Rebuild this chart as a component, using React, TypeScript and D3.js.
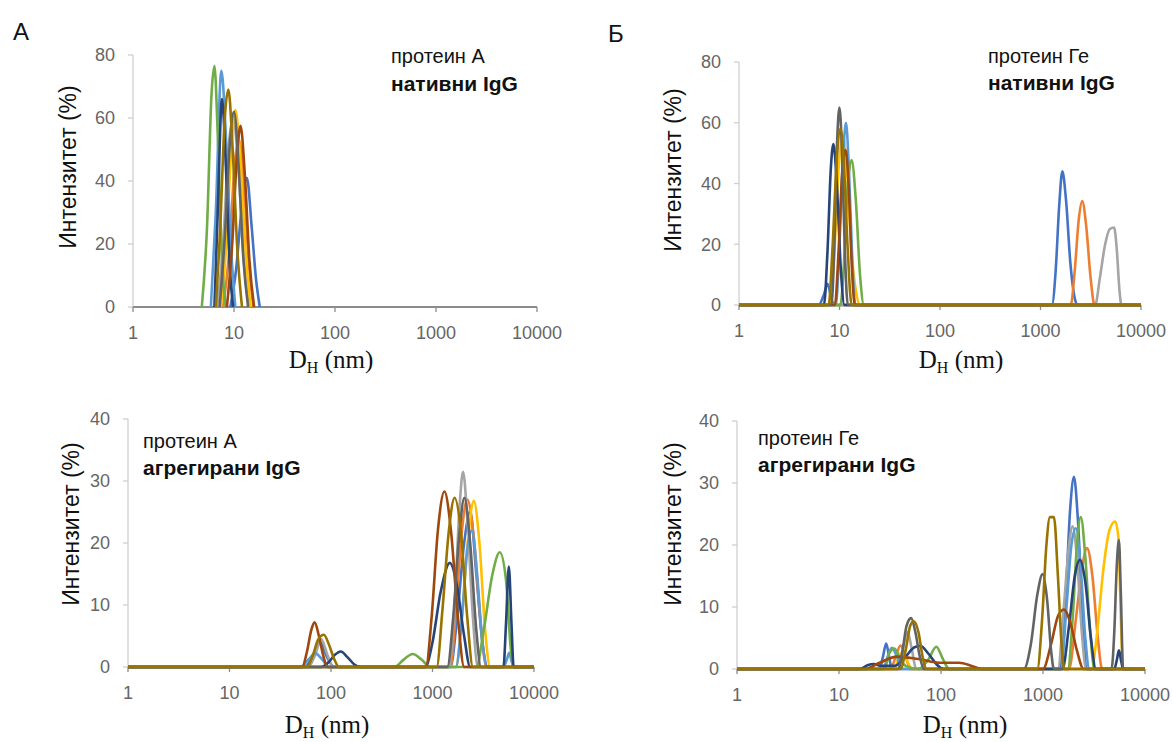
import React from "react";
import * as d3 from "d3";

type Pt = [number, number];

const palette = [
  "#4472C4", "#ED7D31", "#A5A5A5", "#FFC000", "#5B9BD5",
  "#70AD47", "#264478", "#9E480E", "#636363", "#997300",
];

const xTickValues = [1, 10, 100, 1000, 10000];
const yTicksTop = [0, 20, 40, 60, 80];
const yTicksBottom = [0, 10, 20, 30, 40];

// Panel A, top: protein A, native IgG
const seriesATop: Pt[][] = [
  [[9.2, 0], [10.5, 12], [11.8, 30], [13.4, 41], [15, 25], [16.5, 9], [18, 0]],
  [[7.8, 0], [9, 18], [10.2, 46], [11.2, 53], [12.5, 40], [14, 14], [15.6, 0]],
  [[6.8, 0], [7.8, 20], [8.8, 50], [9.8, 60], [11, 45], [12.5, 15], [14, 0]],
  [[7.4, 0], [8.4, 20], [9.4, 50], [10.3, 62.5], [11.5, 48], [13, 18], [14.6, 0]],
  [[5.9, 0], [6.6, 30], [7.5, 75], [8.3, 55], [9.3, 20], [10.3, 0]],
  [[4.8, 0], [5.4, 25], [6.0, 68], [6.4, 76.5], [6.9, 55], [7.6, 15], [8.3, 0]],
  [[6.4, 0], [6.9, 30], [7.6, 66], [8.3, 45], [9.1, 12], [9.8, 0]],
  [[8.5, 0], [9.6, 20], [10.7, 48], [11.6, 57.5], [12.8, 42], [14.2, 15], [15.8, 0]],
  [[7.2, 0], [8.1, 22], [9.1, 52], [10, 62], [11.1, 45], [12.4, 15], [13.8, 0]],
  [[6.6, 0], [7.3, 25], [8.1, 60], [8.8, 69], [9.7, 50], [10.8, 18], [12, 0]],
];

// Panel Б, top: protein G, native IgG
const seriesBTop: Pt[][] = [
  [[1, 0], [6.2, 0], [7, 3.5], [7.6, 7], [8.2, 3], [8.8, 0], [1300, 0], [1420, 12], [1530, 32], [1650, 44], [1800, 34], [1980, 14], [2200, 2], [2350, 0], [10000, 0]],
  [[1, 0], [2000, 0], [2200, 12], [2400, 28], [2600, 34.2], [2850, 26], [3150, 9], [3450, 0], [10000, 0]],
  [[1, 0], [3500, 0], [3900, 9], [4400, 20], [4900, 25], [5400, 25.5], [5750, 18], [6100, 5], [6400, 0], [10000, 0]],
  [[1, 0], [8, 0], [8.8, 15], [9.8, 45], [10.8, 56], [11.8, 45], [13, 20], [14.5, 5], [16, 0], [10000, 0]],
  [[1, 0], [9.2, 0], [10, 20], [10.9, 50], [11.6, 60], [12.4, 45], [13.4, 15], [14.4, 0], [10000, 0]],
  [[1, 0], [10.2, 0], [11, 12], [12, 38], [13.2, 47.7], [14.5, 35], [16, 10], [17.5, 0], [10000, 0]],
  [[1, 0], [7, 0], [7.6, 18], [8.2, 45], [8.7, 53], [9.4, 40], [10.3, 12], [11.2, 0], [10000, 0]],
  [[1, 0], [9, 0], [9.8, 18], [10.7, 45], [11.5, 51], [12.3, 40], [13.3, 12], [14.2, 0], [10000, 0]],
  [[1, 0], [8.3, 0], [8.9, 20], [9.5, 55], [10, 65], [10.6, 50], [11.3, 18], [12.1, 0], [10000, 0]],
  [[1, 0], [7.8, 0], [8.5, 18], [9.4, 48], [10.2, 58], [11, 48], [12, 20], [13.2, 0], [10000, 0]],
];

// Panel A, bottom: protein A, aggregated IgG
const seriesABottom: Pt[][] = [
  [[1, 0], [55, 0], [65, 1.5], [78, 4], [92, 1.5], [108, 0], [1500, 0], [1750, 8], [2050, 20], [2350, 25], [2700, 15], [3100, 4], [3500, 0], [10000, 0]],
  [[1, 0], [1500, 0], [1700, 9], [1950, 22], [2200, 27], [2550, 21], [2950, 8], [3400, 0], [10000, 0]],
  [[1, 0], [60, 0], [70, 2], [80, 4.5], [92, 2], [105, 0], [1450, 0], [1650, 10], [1850, 26], [2000, 31.5], [2200, 24], [2500, 8], [2800, 0], [10000, 0]],
  [[1, 0], [1700, 0], [1950, 8], [2250, 21], [2550, 26.8], [2900, 20], [3300, 6], [3700, 0], [10000, 0]],
  [[1, 0], [50, 0], [60, 1.2], [70, 2.2], [82, 1.2], [95, 0], [1700, 0], [1950, 8], [2200, 19], [2450, 22], [2750, 15], [3100, 4], [3450, 0], [5000, 0], [5400, 1.2], [5700, 2.3], [6000, 1], [6300, 0], [10000, 0]],
  [[1, 0], [420, 0], [520, 1.2], [640, 2.1], [780, 1.2], [950, 0], [2700, 0], [3200, 6], [3900, 15], [4600, 18.5], [5300, 14], [5900, 3], [6300, 0], [10000, 0]],
  [[1, 0], [80, 0], [95, 0.8], [110, 2], [125, 2.5], [145, 1.6], [170, 0.4], [195, 0], [850, 0], [1000, 4], [1200, 12], [1480, 16.8], [1750, 13], [2050, 5], [2350, 0], [5000, 0], [5300, 7], [5650, 16.2], [6000, 7], [6300, 0], [10000, 0]],
  [[1, 0], [52, 0], [58, 2.5], [64, 6], [69, 7.2], [76, 5], [84, 1.8], [92, 0], [860, 0], [980, 8], [1130, 22], [1310, 28.3], [1520, 22], [1780, 8], [2050, 0], [10000, 0]],
  [[1, 0], [1400, 0], [1600, 8], [1830, 21], [2060, 27.3], [2350, 20], [2700, 6], [3000, 0], [10000, 0]],
  [[1, 0], [58, 0], [66, 1.8], [75, 4.5], [85, 5.2], [96, 3.5], [108, 1.2], [120, 0], [1100, 0], [1250, 9], [1450, 22], [1650, 27.3], [1900, 22], [2200, 8], [2500, 0], [10000, 0]],
];

// Panel Б, bottom: protein G, aggregated IgG
const seriesBBottom: Pt[][] = [
  [[1, 0], [25, 0], [27, 2], [29, 4.1], [31, 2], [33, 0], [1450, 0], [1650, 10], [1850, 26], [2010, 31], [2200, 24], [2450, 8], [2700, 0], [10000, 0]],
  [[1, 0], [32, 0], [36, 2], [40, 3.8], [45, 2], [50, 0], [1800, 0], [2100, 8], [2400, 16], [2700, 19.5], [3050, 15], [3450, 5], [3800, 0], [10000, 0]],
  [[1, 0], [38, 0], [42, 3], [47, 6], [52, 3], [57, 0], [1400, 0], [1600, 10], [1800, 20], [1950, 23], [2150, 18], [2400, 6], [2650, 0], [10000, 0]],
  [[1, 0], [35, 0], [40, 2.5], [46, 1.5], [52, 0], [3000, 0], [3400, 6], [3900, 16], [4500, 22.5], [5100, 23.8], [5500, 21], [5800, 8], [6100, 0], [10000, 0]],
  [[1, 0], [27, 0], [30, 2], [33, 3.4], [37, 2], [41, 0], [1500, 0], [1700, 10], [1900, 20], [2100, 22.7], [2350, 16], [2600, 5], [2850, 0], [10000, 0]],
  [[1, 0], [28, 0], [31, 2.5], [35, 3.3], [40, 1.5], [45, 0.5], [60, 0], [75, 1.5], [90, 3.6], [105, 1.5], [120, 0], [1750, 0], [1950, 8], [2150, 20], [2350, 24.5], [2600, 18], [2900, 6], [3200, 0], [10000, 0]],
  [[1, 0], [16, 0], [19, 0.6], [22, 0.8], [26, 0.5], [35, 0.5], [45, 2], [55, 3.5], [63, 3.7], [75, 2.5], [90, 0.8], [105, 0], [1550, 0], [1800, 7], [2050, 15], [2300, 17.6], [2600, 14], [2950, 5], [3300, 0], [5000, 0], [5300, 1.5], [5550, 3], [5850, 1.2], [6100, 0], [10000, 0]],
  [[1, 0], [18, 0], [25, 1], [37, 2], [60, 1.6], [100, 1], [150, 1], [200, 0.5], [250, 0], [1000, 0], [1200, 4], [1400, 8.5], [1600, 9.6], [1850, 7.5], [2150, 3], [2500, 0], [10000, 0]],
  [[1, 0], [38, 0], [42, 3], [46, 7], [51, 8.2], [56, 6], [62, 2], [68, 0], [650, 0], [760, 4], [880, 12], [990, 15.3], [1100, 11], [1200, 3], [1280, 0], [4700, 0], [5000, 6], [5300, 17], [5550, 20.8], [5800, 12], [6100, 0], [10000, 0]],
  [[1, 0], [40, 0], [45, 3], [50, 7], [54, 7.7], [60, 6], [66, 2], [72, 0], [880, 0], [980, 8], [1080, 20], [1170, 24.5], [1280, 24.5], [1400, 15], [1520, 4], [1620, 0], [10000, 0]],
];

const SANS = "'Liberation Sans', Arial, sans-serif";
const SERIF = "'Liberation Serif', 'Times New Roman', serif";

type PanelProps = {
  x0: number; x1: number; y0: number; yTop: number;
  yTicks: number[]; series: Pt[][];
  noteX: number; noteY1: number; noteY2: number; note1: string; note2: string;
  yLabX: number; yLabY: number; xLabX: number; xLabY: number;
};

function Panel(p: PanelProps) {
  const xs = d3.scaleLog().domain([1, 10000]).range([p.x0, p.x1]);
  const ys = d3.scaleLinear().domain([0, p.yTicks[p.yTicks.length - 1]]).range([p.y0, p.yTop]);
  const line = d3
    .line<Pt>()
    .x((d) => xs(d[0]))
    .y((d) => ys(d[1]))
    .curve(d3.curveMonotoneX);
  return (
    <g>
      {/* y axis */}
      <line x1={p.x0} x2={p.x0} y1={ys(p.yTicks[p.yTicks.length - 1])} y2={p.y0} stroke="#D0D0D0" strokeWidth={1.3} />
      {p.yTicks.map((t) => (
        <g key={"y" + t}>
          <line x1={p.x0 - 5} x2={p.x0} y1={ys(t)} y2={ys(t)} stroke="#D0D0D0" strokeWidth={1.3} />
          <text x={p.x0 - 18} y={ys(t)} dy="0.35em" textAnchor="end" fontFamily={SANS} fontSize={18} fill="#666">
            {t}
          </text>
        </g>
      ))}
      {/* x axis */}
      <line x1={p.x0} x2={p.x1} y1={p.y0} y2={p.y0} stroke="#8C8C8C" strokeWidth={2} />
      {xTickValues.map((t) => (
        <g key={"x" + t}>
          <line x1={xs(t)} x2={xs(t)} y1={p.y0} y2={p.y0 + 5} stroke="#8C8C8C" strokeWidth={1.3} />
          <text x={xs(t)} y={p.y0 + 32} textAnchor="middle" fontFamily={SANS} fontSize={18} fill="#666">
            {t}
          </text>
        </g>
      ))}
      {/* series */}
      {p.series.map((s, i) => (
        <path key={"s" + i} d={line(s) || ""} fill="none" stroke={palette[i]} strokeWidth={2.6} strokeLinejoin="round" />
      ))}
      {/* annotation */}
      <text x={p.noteX} y={p.noteY1} fontFamily={SANS} fontSize={20} fill="#111">{p.note1}</text>
      <text x={p.noteX} y={p.noteY2} fontFamily={SANS} fontSize={21} fontWeight="bold" fill="#111">{p.note2}</text>
      {/* y label */}
      <text
        transform={`translate(${p.yLabX},${p.yLabY}) rotate(-90)`}
        textAnchor="middle"
        dy="0.35em"
        fontFamily={SANS}
        fontSize={23}
        fill="#111"
      >
        Интензитет (%)
      </text>
      {/* x label */}
      <text x={p.xLabX} y={p.xLabY} textAnchor="middle" fontFamily={SERIF} fontSize={25} fill="#111">
        D<tspan fontSize={16} dy={5}>H</tspan>
        <tspan dy={-5}> (nm)</tspan>
      </text>
    </g>
  );
}

export default function App() {
  return (
    <svg
      width={1173}
      height={742}
      style={{ position: "absolute", left: 0, top: 0, background: "#fff" }}
    >
      <rect x={0} y={0} width={1173} height={742} fill="#fff" />
      <text x={13} y={40} fontFamily={SANS} fontSize={24} fill="#111">А</text>
      <text x={608} y={42} fontFamily={SANS} fontSize={24} fill="#111">Б</text>
      <Panel
        x0={133} x1={537} y0={307} yTop={55} yTicks={yTicksTop} series={seriesATop}
        noteX={391} noteY1={63} noteY2={91} note1="протеин А" note2="нативни IgG"
        yLabX={68} yLabY={167} xLabX={331} xLabY={368}
      />
      <Panel
        x0={739} x1={1141} y0={305} yTop={62} yTicks={yTicksTop} series={seriesBTop}
        noteX={988} noteY1={63} noteY2={90} note1="протеин Ге" note2="нативни IgG"
        yLabX={673} yLabY={170} xLabX={961} xLabY={368}
      />
      <Panel
        x0={128} x1={534} y0={667} yTop={419} yTicks={yTicksBottom} series={seriesABottom}
        noteX={143} noteY1={448} noteY2={475} note1="протеин А" note2="агрегирани IgG"
        yLabX={71} yLabY={524} xLabX={327} xLabY={733}
      />
      <Panel
        x0={737} x1={1145} y0={669} yTop={421} yTicks={yTicksBottom} series={seriesBBottom}
        noteX={758} noteY1={445} noteY2={472} note1="протеин Ге" note2="агрегирани IgG"
        yLabX={673} yLabY={524} xLabX={965} xLabY={733}
      />
    </svg>
  );
}
